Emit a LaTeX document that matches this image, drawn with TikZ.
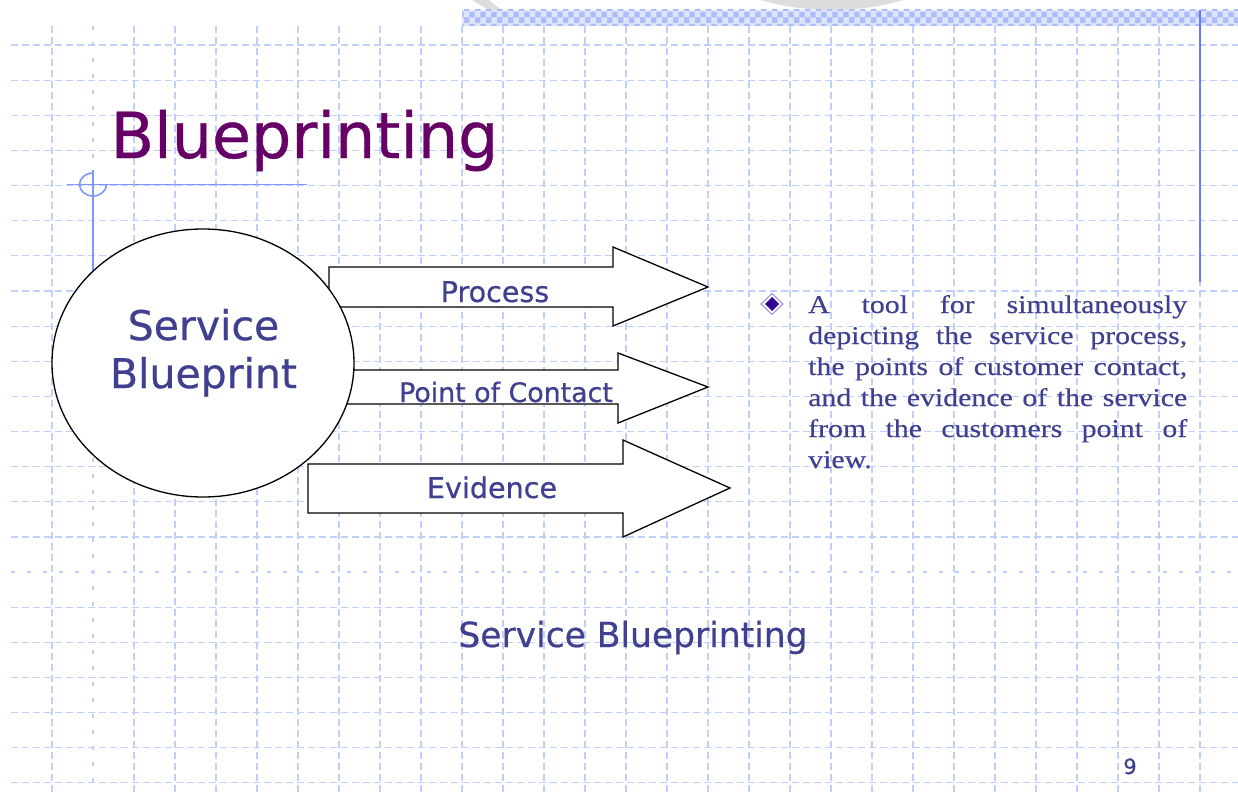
\documentclass[tikz,border=0pt]{standalone}
\usepackage{fontspec}
\usetikzlibrary{patterns}
\newfontfamily\slidesans[FakeBold=0.6]{DejaVu Sans}
\newfontfamily\slideserif[FakeStretch=1.17, FakeBold=0.4]{Liberation Serif}
\definecolor{titlepurple}{RGB}{102,0,102}
\definecolor{slideblue}{RGB}{64,64,144}
\definecolor{gridblue}{RGB}{192,208,250}
\definecolor{ruleblue}{RGB}{128,150,255}
\definecolor{bandgray}{RGB}{221,221,221}
\definecolor{bulletpurple}{RGB}{51,0,153}
\definecolor{bulletrim}{RGB}{160,160,225}
\tikzset{
  gridline/.style={gridblue, line width=1.1bp, dash pattern=on 7bp off 4bp},
  sparseline/.style={gridblue, line width=1.5bp, dash pattern=on 4bp off 12bp},
  ruleline/.style={ruleblue, line width=1.6bp},
  blockarrow/.style={draw=black, fill=white, line width=1.3bp, line join=miter},
  armlabel/.style={anchor=base, inner sep=0pt, text=slideblue, font=\slidesans\fontsize{28.6bp}{34bp}\selectfont},
}
\begin{document}
\begin{tikzpicture}[x=1bp, y=-1bp]
\useasboundingbox[fill=white] (0,0) rectangle (1238,794);
% background grid
\foreach \k in {0,...,14,16,17,...,21}
  \draw[gridline] (11,{45+35.14*\k}) -- (1238,{45+35.14*\k});
\draw[sparseline] (11,572) -- (1238,572);
\foreach \k in {0,2,3,...,28}
  \draw[gridline] ({52+41*\k},26) -- ({52+41*\k},794);
\draw[sparseline] (93,26) -- (93,794);
% template band at the top
\fill[bandgray] (832,-250) circle[radius=260];
\fill[bandgray] (472,0) -- (489,0) -- (504,12) -- (492,12) -- cycle;
\fill[gridblue!55] (462,10) rectangle (1238,26);
\fill[pattern=checkerboard, pattern color=gridblue!90!blue] (462,10) rectangle (1238,26);
% rules
\draw[ruleline] (67,184.5) -- (307,184.5);
\draw[ruleline] (93,170) -- (93,320);
\draw[ruleline] (93,173) arc[start angle=270, end angle=0, x radius=13.5, y radius=11.5];
\draw[ruleblue!80!blue, line width=2bp] (1200,10) -- (1200,282);
% block arrows and the circle
\draw[blockarrow] (329,267) -- (613,267) -- (613,247) -- (708,287) -- (613,326) -- (613,307) -- (329,307) -- cycle;
\draw[blockarrow] (330,370) -- (618,370) -- (618,353) -- (708,387) -- (618,423) -- (618,404) -- (330,404) -- cycle;
\draw[fill=white, line width=1.3bp] (203,363) ellipse[x radius=151, y radius=134];
\draw[blockarrow] (308,464) -- (623,464) -- (623,440) -- (730,488) -- (623,537) -- (623,513) -- (308,513) -- cycle;
% texts
\node[anchor=base, inner sep=0pt, text=titlepurple, font=\slidesans\fontsize{63.5bp}{70bp}\selectfont] (title) at (304.5,158) {Blueprinting};
\node[inner sep=0pt, align=center, text=slideblue, font=\slidesans\fontsize{41bp}{48bp}\selectfont] (blueprint) at (203.5,352.8) {Service\\Blueprint};
\node[armlabel] (process) at (495,302) {Process};
\node[armlabel, font=\slidesans\fontsize{26.8bp}{32bp}\selectfont] (contact) at (506,402) {Point of Contact};
\node[armlabel] (evidence) at (492,498) {Evidence};
% bullet
\filldraw[draw=bulletrim, fill=white, line width=1.2bp] (772,293.5) -- (783,304) -- (772,314.5) -- (761,304) -- cycle;
\fill[bulletpurple] (772,297) -- (779,304) -- (772,311) -- (765,304) -- cycle;
\node[anchor=base west, inner sep=0pt, text=slideblue, font=\slideserif\fontsize{25.5bp}{31bp}\selectfont] (tooltext) at (808,313) {\parbox[t]{379bp}{\hbadness=10000 A tool for simultaneously\linebreak depicting the service process,\linebreak the points of customer contact,\linebreak and the evidence of the service\linebreak from the customers point of\linebreak view.}};
\node[anchor=base, inner sep=0pt, text=slideblue, font=\slidesans\fontsize{34.5bp}{40bp}\selectfont] (caption) at (633,647) {Service Blueprinting};
\node[anchor=base, inner sep=0pt, text=slideblue, font=\slidesans\fontsize{21bp}{25bp}\selectfont] (pagenum) at (1130,774) {9};
\end{tikzpicture}
\end{document}
